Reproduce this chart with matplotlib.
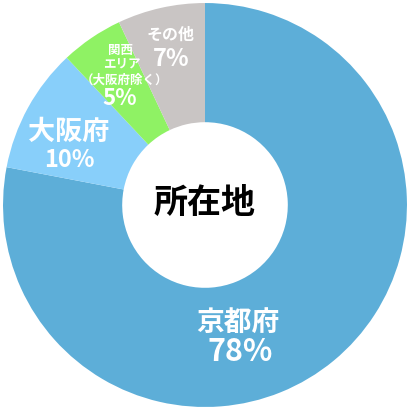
import matplotlib.pyplot as plt

plt.rcParams['font.family'] = ['Noto Sans CJK JP', 'DejaVu Sans']

labels = ['京都府', '大阪府', '関西\nエリア\n（大阪府除く）', 'その他']
values = [78, 10, 5, 7]
colors = ['#5daed8', '#88cffa', '#8ff264', '#c9c5c4']

fig = plt.figure(figsize=(4.11, 4.09), dpi=100)
ax = fig.add_axes([0, 0, 1, 1])
ax.pie(values, colors=colors, startangle=90, counterclock=False,
       radius=1.0, wedgeprops=dict(width=0.59, linewidth=0))
ax.set_xlim(-1.015, 1.02)
ax.set_ylim(-1.01, 1.015)
ax.set_aspect('auto')
ax.axis('off')


def px(x, y):
    # pixel position -> data coords
    return (x - 205) / 202, (205 - y) / 202


def put(x, y, s, size, color='white'):
    dx, dy = px(x, y)
    ax.text(dx, dy, s, ha='center', va='center', fontsize=size,
            fontweight='bold', color=color)


put(205, 202, '所在地', 24.5, color='black')

put(238, 323, labels[0], 20)
put(240, 352, '%d%%' % values[0], 22)

put(69, 132, labels[1], 19.5)
put(69, 160, '%d%%' % values[1], 17)

put(120, 50, '関西', 9)
put(122, 64, 'エリア', 9)
put(124, 80, '（大阪府除く）', 9)
put(120, 98, '%d%%' % values[2], 16)

put(171, 35, labels[3], 11.5)
put(171, 59, '%d%%' % values[3], 17)

plt.savefig('out.png', dpi=100)
plt.close()
